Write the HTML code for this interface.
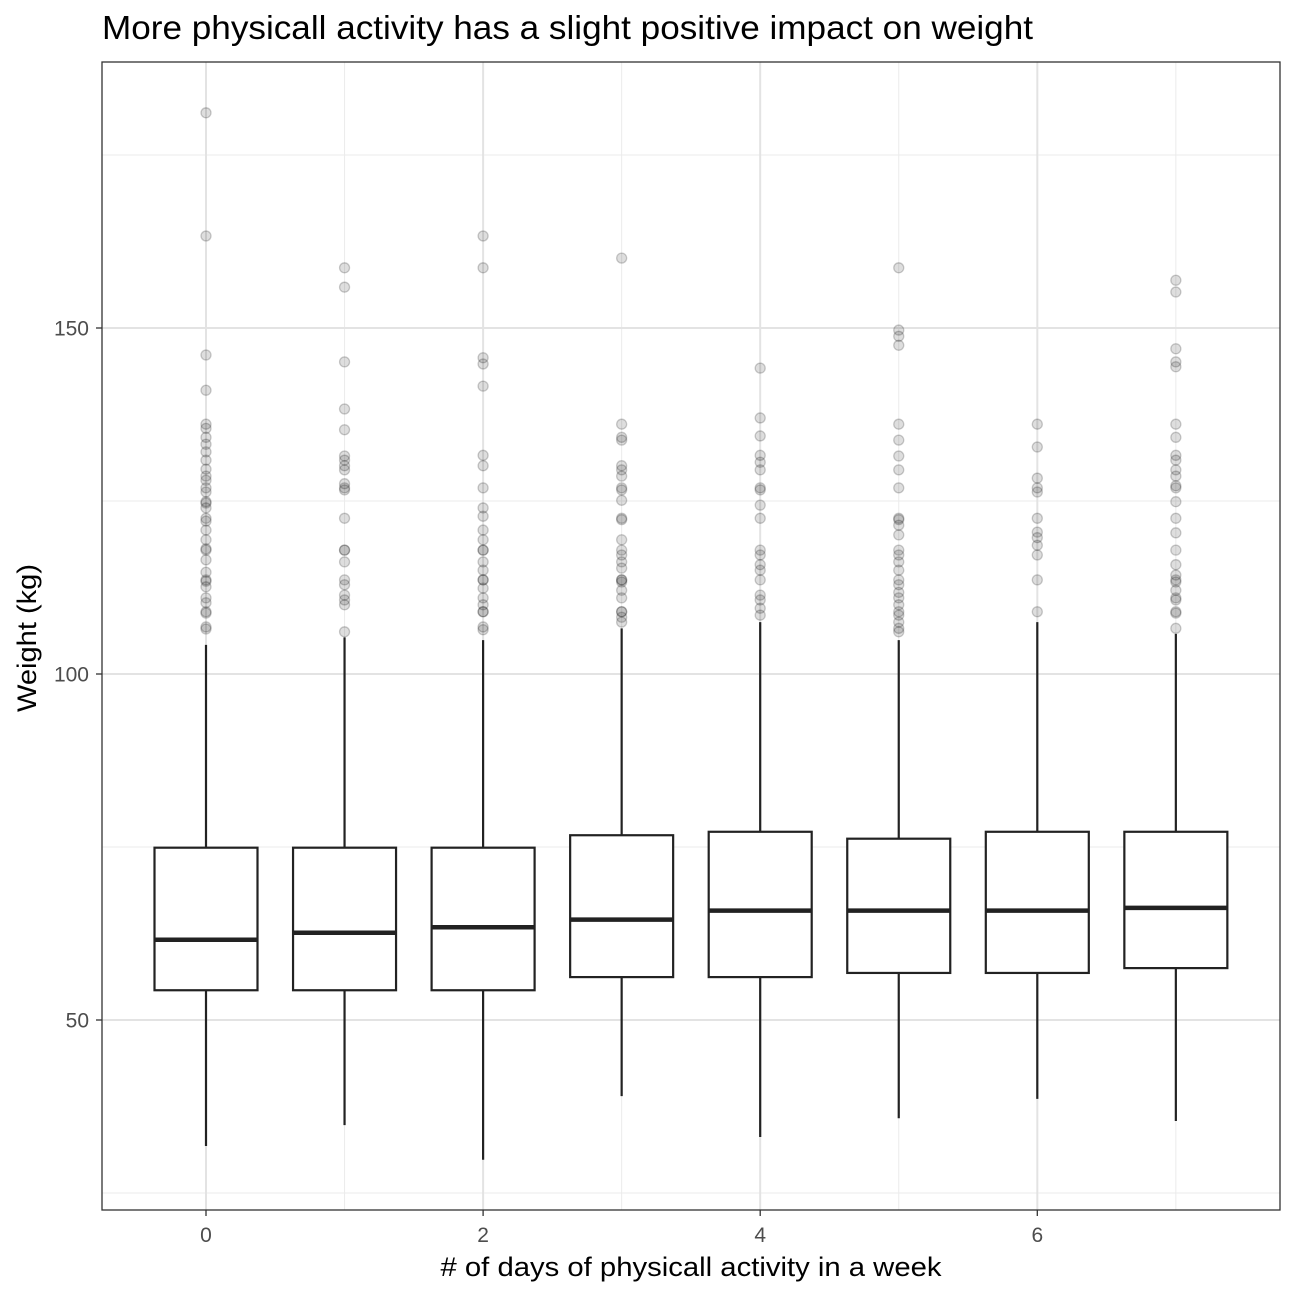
<!DOCTYPE html>
<html><head><meta charset="utf-8"><style>
body{margin:0;background:#fff;}
svg{display:block;font-family:"Liberation Sans",Arial,sans-serif;}
</style></head><body>
<svg id="chart" width="1296" height="1296"></svg>
<script>
const categories=[0,1,2,3,4,5,6,7];
const q1=[54.3,54.3,54.3,56.2,56.2,56.8,56.8,57.5];
const medians=[61.6,62.6,63.4,64.5,65.8,65.8,65.8,66.2];
const q3=[74.9,74.9,74.9,76.7,77.2,76.2,77.2,77.2];
const whiskerLow=[31.8,34.8,29.8,39.0,33.1,35.8,38.6,35.4];
const whiskerHigh=[104.2,105.3,104.9,106.6,107.5,104.9,107.5,105.8];
const outliers=[
[181.1,163.3,146.1,141.0,136.1,135.5,134.2,133.2,132.1,130.9,129.6,128.6,128.0,126.9,126.3,124.9,124.7,124.0,122.5,122.1,120.8,119.4,118.1,117.9,116.5,114.7,113.6,113.4,112.6,111.0,110.3,109.0,108.8,106.8,106.5],
[158.7,155.9,145.1,138.3,135.3,131.5,130.9,130.1,129.5,127.5,126.9,126.6,122.5,117.9,117.9,116.2,113.6,112.9,111.4,110.7,110.0,106.1],
[163.3,158.7,145.7,144.8,141.6,131.6,130.1,126.9,124.0,122.8,120.8,119.4,117.9,117.9,116.2,115.0,113.6,113.6,112.4,111.0,110.0,109.0,109.0,106.8,106.4],
[160.1,136.1,134.2,133.8,130.1,129.5,128.6,126.9,126.6,125.1,122.5,122.3,119.4,117.9,117.2,116.2,115.3,113.6,113.6,113.3,112.1,111.0,109.0,109.0,108.2,107.5],
[144.2,137.0,134.4,131.6,130.6,129.5,126.9,126.6,124.4,122.5,117.9,117.2,115.8,115.0,113.6,111.4,110.7,109.5,108.5],
[158.7,149.7,148.8,147.5,136.1,133.8,131.5,129.5,126.9,122.5,122.3,121.5,120.1,117.9,117.2,116.2,115.0,113.6,112.9,111.8,111.0,110.0,109.0,108.5,107.5,106.6,106.1],
[136.1,132.8,128.3,126.9,126.3,122.5,120.5,119.7,118.6,117.2,113.6,109.0],
[156.9,155.2,147.0,145.1,144.4,136.1,134.2,131.6,130.9,129.5,128.6,127.2,126.9,124.9,122.5,120.4,117.9,115.8,114.3,113.6,113.3,112.1,111.0,110.7,109.0,108.8,106.6]
];
const yTicks=[50,100,150];
const yMinor=[25,75,125,175];
const xTicks=[0,2,4,6];
const xMinor=[1,3,5,7];

const NS="http://www.w3.org/2000/svg";
const svg=document.getElementById('chart');
const L=102,R=1280,T=62,B=1210;
const xs=v=>206+(v)*138.55;
const ys=v=>674-(v-100)*6.92;
function el(tag,attrs,parent){const e=document.createElementNS(NS,tag);for(const k in attrs)e.setAttribute(k,attrs[k]);(parent||svg).appendChild(e);return e;}

const grid=el('g',{});


yMinor.forEach(v=>el('line',{x1:L,x2:R,y1:ys(v),y2:ys(v),stroke:'#ebebeb','stroke-width':1},grid));
xMinor.forEach(v=>el('line',{x1:xs(v),x2:xs(v),y1:T,y2:B,stroke:'#ebebeb','stroke-width':1},grid));
yTicks.forEach(v=>el('line',{x1:L,x2:R,y1:ys(v),y2:ys(v),stroke:'#e3e3e3','stroke-width':2},grid));
xTicks.forEach(v=>el('line',{x1:xs(v),x2:xs(v),y1:T,y2:B,stroke:'#e3e3e3','stroke-width':2},grid));

const hw=51.5;
categories.forEach((c,i)=>{
  const g=el('g',{});
  
  
  const x=xs(c);
  el('line',{x1:x,x2:x,y1:ys(q3[i]),y2:ys(whiskerHigh[i]),stroke:'#222','stroke-width':2.2},g);
  el('line',{x1:x,x2:x,y1:ys(q1[i]),y2:ys(whiskerLow[i]),stroke:'#222','stroke-width':2.2},g);
  el('rect',{x:x-hw,y:ys(q3[i]),width:hw*2,height:ys(q1[i])-ys(q3[i]),fill:'#fff',stroke:'#222','stroke-width':2.2},g);
  el('line',{x1:x-hw,x2:x+hw,y1:ys(medians[i]),y2:ys(medians[i]),stroke:'#222','stroke-width':4.5},g);
  outliers[i].forEach(v=>{
    const p=el('circle',{cx:x,cy:ys(v),r:5,fill:'rgba(0,0,0,0.13)',stroke:'rgba(0,0,0,0.2)','stroke-width':1.3},g);
    
    
  });
});

const frame=el('rect',{x:L,y:T,width:R-L,height:B-T,fill:'none',stroke:'#333','stroke-width':1.3});



yTicks.forEach(v=>{
  el('line',{x1:L-6,x2:L,y1:ys(v),y2:ys(v),stroke:'#333','stroke-width':1.3});
  const t=el('text',{x:L-13,y:ys(v)+7.5,'text-anchor':'end','font-size':21,fill:'#4d4d4d'});
  t.textContent=v;
  
  
});
xTicks.forEach(v=>{
  el('line',{x1:xs(v),x2:xs(v),y1:B,y2:B+6,stroke:'#333','stroke-width':1.3});
  const t=el('text',{x:xs(v),y:B+32,'text-anchor':'middle','font-size':21,fill:'#4d4d4d'});
  t.textContent=v;
  
  
});
</script>
<svg width="1296" height="1296" style="position:absolute;left:0;top:0;font-family:'Liberation Sans',Arial,sans-serif;pointer-events:none">
<text x="102" y="39" font-size="33" fill="#000" textLength="931" lengthAdjust="spacingAndGlyphs">More physicall activity has a slight positive impact on weight</text>
<text x="691" y="1276" text-anchor="middle" font-size="27" fill="#000" textLength="501" lengthAdjust="spacingAndGlyphs"># of days of physicall activity in a week</text>
<text transform="translate(36,638) rotate(-90)" text-anchor="middle" font-size="27" fill="#000" textLength="148" lengthAdjust="spacingAndGlyphs">Weight (kg)</text>
</svg>
</body></html>
